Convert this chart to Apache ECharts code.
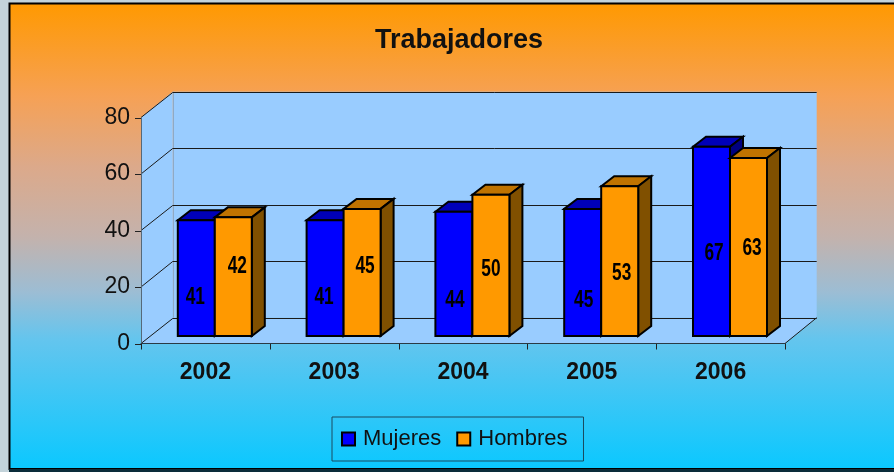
<!DOCTYPE html>
<html>
<head>
<meta charset="utf-8">
<style>
  html, body { margin: 0; padding: 0; background: #c3d3da; }
  #chart { width: 894px; height: 472px; }
</style>
<script src="https://cdn.jsdelivr.net/npm/echarts@6/dist/echarts.min.js"></script>
</head>
<body>
<div id="chart"></div>
<script>
const categories = ['2002', '2003', '2004', '2005', '2006'];
const mujeres = [41, 41, 44, 45, 67];
const hombres = [42, 45, 50, 53, 63];
const yTicks = [0, 20, 40, 60, 80];

// fake 3d depth, in px
const WALL_DX = 31.7, WALL_DY = 25.8;
const BAR_DX = 9.4, BAR_DY = 7.5;
const SIDE_DX = 13, SIDE_DY = 10;
const BAR_W = 37;
const TICK_LEN = 6;
// hand placed labels in the original: [dx, dy] from bar centre
const mujeresLabelPos = [[-1, 19], [-1, 19], [1, 27], [1, 28], [2.5, 12]];
const hombresLabelPos = [[4, -10], [3, -6], [0, 4], [2, 12], [3.5, 1]];

function poly(points, fill, stroke, lineWidth) {
  return {
    type: 'polygon',
    shape: { points },
    style: { fill, stroke: stroke || null, lineWidth: lineWidth || 0 }
  };
}

function crisp(v) {
  return Math.round(v) + 0.5;
}

function seg(x1, y1, x2, y2, color) {
  return {
    type: 'line',
    shape: { x1, y1, x2, y2 },
    style: { stroke: color, lineWidth: 1 }
  };
}

function renderWall(params, api) {
  const rect = params.coordSys;
  const y = api.coord([0, api.value(1)])[1];
  const x0 = rect.x, x1 = rect.x + rect.width;
  const backX = crisp(x0 + WALL_DX);
  const backY = crisp(y - WALL_DY);
  const children = [];
  if (params.dataIndex === 0) {
    const top = rect.y, bot = rect.y + rect.height;
    const wall = '#99ccff';
    children.push(poly([[x0 + WALL_DX, top - WALL_DY], [x1 + WALL_DX, top - WALL_DY], [x1 + WALL_DX, bot - WALL_DY], [x0 + WALL_DX, bot - WALL_DY]], wall));
    children.push(poly([[x0, top], [x0 + WALL_DX, top - WALL_DY], [x0 + WALL_DX, bot - WALL_DY], [x0, bot]], wall));
    children.push(poly([[x0, bot], [x0 + WALL_DX, bot - WALL_DY], [x1 + WALL_DX, bot - WALL_DY], [x1, bot]], wall));
    children.push(seg(backX, top - WALL_DY, backX, bot - WALL_DY, '#8fa9c4'));
    children.push(seg(x1, bot, x1 + WALL_DX, bot - WALL_DY, '#1a1a1a'));
    // category boundary ticks
    for (let k = 0; k <= categories.length; k++) {
      const tx = crisp(x0 + rect.width * k / categories.length);
      children.push(seg(tx, bot, tx, bot + TICK_LEN, '#222'));
    }
  }
  children.push({
    type: 'polyline',
    shape: { points: [[x0, y], [x0 + WALL_DX, backY], [x1 + WALL_DX, backY]] },
    style: { stroke: '#1a1a1a', lineWidth: 1, fill: null }
  });
  children.push(seg(x0 - TICK_LEN, crisp(y), x0, crisp(y), '#222'));
  return { type: 'group', children };
}

function barRenderer(shift, front, topColor, sideColor, labelPos) {
  return function (params, api) {
    const i = params.dataIndex;
    const val = api.value(1);
    const base = api.coord([i, 0]);
    const peak = api.coord([i, val]);
    const x0 = base[0] + BAR_DX + (shift - 1) * BAR_W;
    const x1 = x0 + BAR_W;
    const yb = base[1] - BAR_DY;
    const yt = peak[1] - BAR_DY;
    const lw = 2;
    return {
      type: 'group',
      children: [
        poly([[x0, yt], [x0 + SIDE_DX, yt - SIDE_DY], [x1 + SIDE_DX, yt - SIDE_DY], [x1, yt]], topColor, '#000', lw),
        poly([[x1, yt], [x1 + SIDE_DX, yt - SIDE_DY], [x1 + SIDE_DX, yb - SIDE_DY], [x1, yb]], sideColor, '#000', lw),
        poly([[x0, yt], [x1, yt], [x1, yb], [x0, yb]], front, '#000', lw),
        {
          type: 'text',
          x: (x0 + x1) / 2 + labelPos[i][0],
          y: (yt + yb) / 2 + labelPos[i][1],
          scaleX: 0.72,
          z2: 10,
          style: {
            text: String(val),
            fill: '#000',
            font: 'bold 24px "Liberation Sans"',
            align: 'center',
            verticalAlign: 'middle'
          }
        }
      ]
    };
  };
}

const chart = echarts.init(document.getElementById('chart'));
chart.setOption({
  animation: false,
  textStyle: { fontFamily: '"Liberation Sans", Arial, sans-serif' },
  graphic: [
    {
      type: 'rect',
      z: -10,
      silent: true,
      shape: { x: 9.5, y: 3.5, width: 890, height: 465.5 },
      style: {
        stroke: '#000',
        lineWidth: 2,
        fill: new echarts.graphic.LinearGradient(0, 0, 0, 1, [
          { offset: 0, color: '#ff9900' },
          { offset: 0.2, color: '#f6a155' },
          { offset: 0.35, color: '#dca98a' },
          { offset: 0.5, color: '#c4b2ac' },
          { offset: 0.62, color: '#9cbdd4' },
          { offset: 0.72, color: '#64c5ee' },
          { offset: 1, color: '#0ac8ff' }
        ])
      }
    },
    {
      type: 'rect',
      z: -10,
      silent: true,
      shape: { x: 9, y: 469, width: 885, height: 3 },
      style: { fill: '#0a2c3a' }
    }
  ],
  title: {
    text: 'Trabajadores',
    left: 454,
    top: 22,
    textAlign: 'center',
    textStyle: { fontSize: 27, fontWeight: 'bold', color: '#111' }
  },
  legend: {
    data: ['Mujeres', 'Hombres'],
    left: 332,
    top: 417,
    orient: 'horizontal',
    icon: 'rect',
    itemWidth: 13,
    itemHeight: 13,
    itemGap: 15,
    padding: [11, 16, 11, 9],
    borderColor: '#1a4a60',
    borderWidth: 1,
    textStyle: { fontSize: 22, color: '#111', padding: [0, 0, 0, 3] }
  },
  grid: { left: 141, right: 109, top: 117.5, bottom: 128.5 },
  xAxis: {
    type: 'category',
    z: 2,
    data: categories,
    axisLine: { lineStyle: { color: '#2a3a44', width: 1 } },
    axisTick: { show: false },
    axisLabel: { fontSize: 23, fontWeight: 'bold', color: '#111', margin: 18 },
    splitLine: { show: false }
  },
  yAxis: {
    type: 'value',
    z: 2,
    min: 0,
    max: 80,
    interval: 20,
    axisLine: { show: true, lineStyle: { color: '#55697a', width: 1 } },
    axisTick: { show: false },
    axisLabel: { fontSize: 23, color: '#111', margin: 11, padding: [0, 0, 5, 0] },
    splitLine: { show: false }
  },
  series: [
    {
      name: 'wall',
      type: 'custom',
      clip: false,
      z: 1,
      silent: true,
      renderItem: renderWall,
      encode: { x: 0, y: 1 },
      data: yTicks.map(v => [0, v])
    },
    {
      name: 'Mujeres',
      type: 'custom',
      clip: false,
      z: 3,
      renderItem: barRenderer(0, '#0000ff', '#0000b8', '#000080', mujeresLabelPos),
      itemStyle: { color: '#0000ff', borderColor: '#000', borderWidth: 2 },
      encode: { x: 0, y: 1 },
      data: mujeres.map((v, i) => [i, v])
    },
    {
      name: 'Hombres',
      type: 'custom',
      clip: false,
      z: 4,
      renderItem: barRenderer(1, '#ff9900', '#c07300', '#805000', hombresLabelPos),
      itemStyle: { color: '#ff9900', borderColor: '#000', borderWidth: 2 },
      encode: { x: 0, y: 1 },
      data: hombres.map((v, i) => [i, v])
    }
  ]
});
</script>
</body>
</html>
